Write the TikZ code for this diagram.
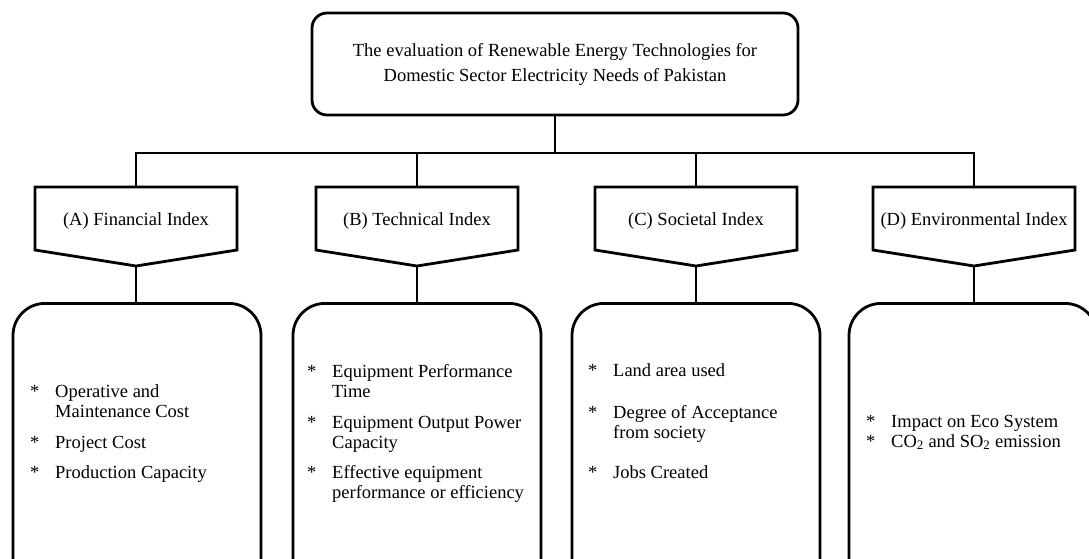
\documentclass[tikz,border=0pt]{standalone}
\usepackage{fontspec}
\setmainfont{Liberation Serif}

% one list entry: a star, then the text in a second column
\newcommand{\itm}[1]{\begin{tabular}[t]{@{}p{25pt}@{}l@{}}*&#1\end{tabular}}

\tikzset{
  link/.style={line width=1.2pt},
  heavy/.style={line width=2.8pt, line join=miter},
  titlebox/.style={draw, heavy, rounded corners=15pt, minimum width=486pt,
    minimum height=102pt, align=center,
    font=\fontsize{18.5}{25}\selectfont},
  listbox/.style={draw, heavy, rounded corners=32pt, minimum width=248pt,
    minimum height=300pt, anchor=north},
  entry/.style={anchor=base west, inner sep=0pt},
}

\begin{document}
\begin{tikzpicture}[x=1pt, y=-1pt, font=\fontsize{18.5}{20}\selectfont]

    \useasboundingbox (0,0) rectangle (1089,558);
    \clip (0,0) rectangle (1089,558);

    % Main heading
    \node[titlebox] (title) at (555,64)
      {The evaluation of Renewable Energy Technologies for\\
       Domestic Sector Electricity Needs of Pakistan};
    \coordinate (bus) at (555,153);

    % ==========================================
    % INDEX HEADS (pentagons)
    % ==========================================
    \foreach \x/\n/\t in {136/A/{(A) Financial Index},
                          417/B/{(B) Technical Index},
                          696/C/{(C) Societal Index},
                          974/D/{(D) Environmental Index}}{
      \draw[heavy] (\x-101,187) -- (\x+101,187) -- (\x+101,250)
        -- (\x,266) -- (\x-101,250) -- cycle;
      \node (\n) at (\x,221) {\t};
      \coordinate (\n-top) at (\x,187);
      \coordinate (\n-tip) at (\x,266);
    }

    % ==========================================
    % CRITERIA BOXES
    % ==========================================
    \node[listbox] (Abox) at (137,302) {};
    \node[listbox] (Bbox) at (417,302) {};
    \node[listbox] (Cbox) at (696,302) {};
    \node[listbox] (Dbox) at (973,302) {};

    % Connectors
    \draw[link] (title) -- (bus);
    \draw[link] (A-top) -- (A-top |- bus) -- (D-top |- bus) -- (D-top);
    \draw[link] (B-top) -- (B-top |- bus);
    \draw[link] (C-top) -- (C-top |- bus);
    \foreach \n in {A,B,C,D}
      \draw[link] (\n-tip) -- (\n-tip |- \n box.north);

    % Financial
    \node[entry] (a1) at (30,397) {\itm{Operative and\\&Maintenance Cost}};
    \node[entry] (a2) at (30,448) {\itm{Project Cost}};
    \node[entry] (a3) at (30,478) {\itm{Production Capacity}};

    % Technical
    \node[entry] (b1) at (307,377) {\itm{Equipment Performance\\&Time}};
    \node[entry] (b2) at (307,428) {\itm{Equipment Output Power\\&Capacity}};
    \node[entry] (b3) at (307,478) {\itm{Effective equipment\\&performance or efficiency}};

    % Societal
    \node[entry] (c1) at (588,376) {\itm{Land area used}};
    \node[entry] (c2) at (588,418) {\itm{Degree of Acceptance\\&from society}};
    \node[entry] (c3) at (588,478) {\itm{Jobs Created}};

    % Environmental
    \node[entry] (d1) at (866,427) {\itm{Impact on Eco System}};
    \node[entry] (d2) at (866,447)
      {\itm{CO\textsubscript{2} and SO\textsubscript{2} emission}};

\end{tikzpicture}
\end{document}
